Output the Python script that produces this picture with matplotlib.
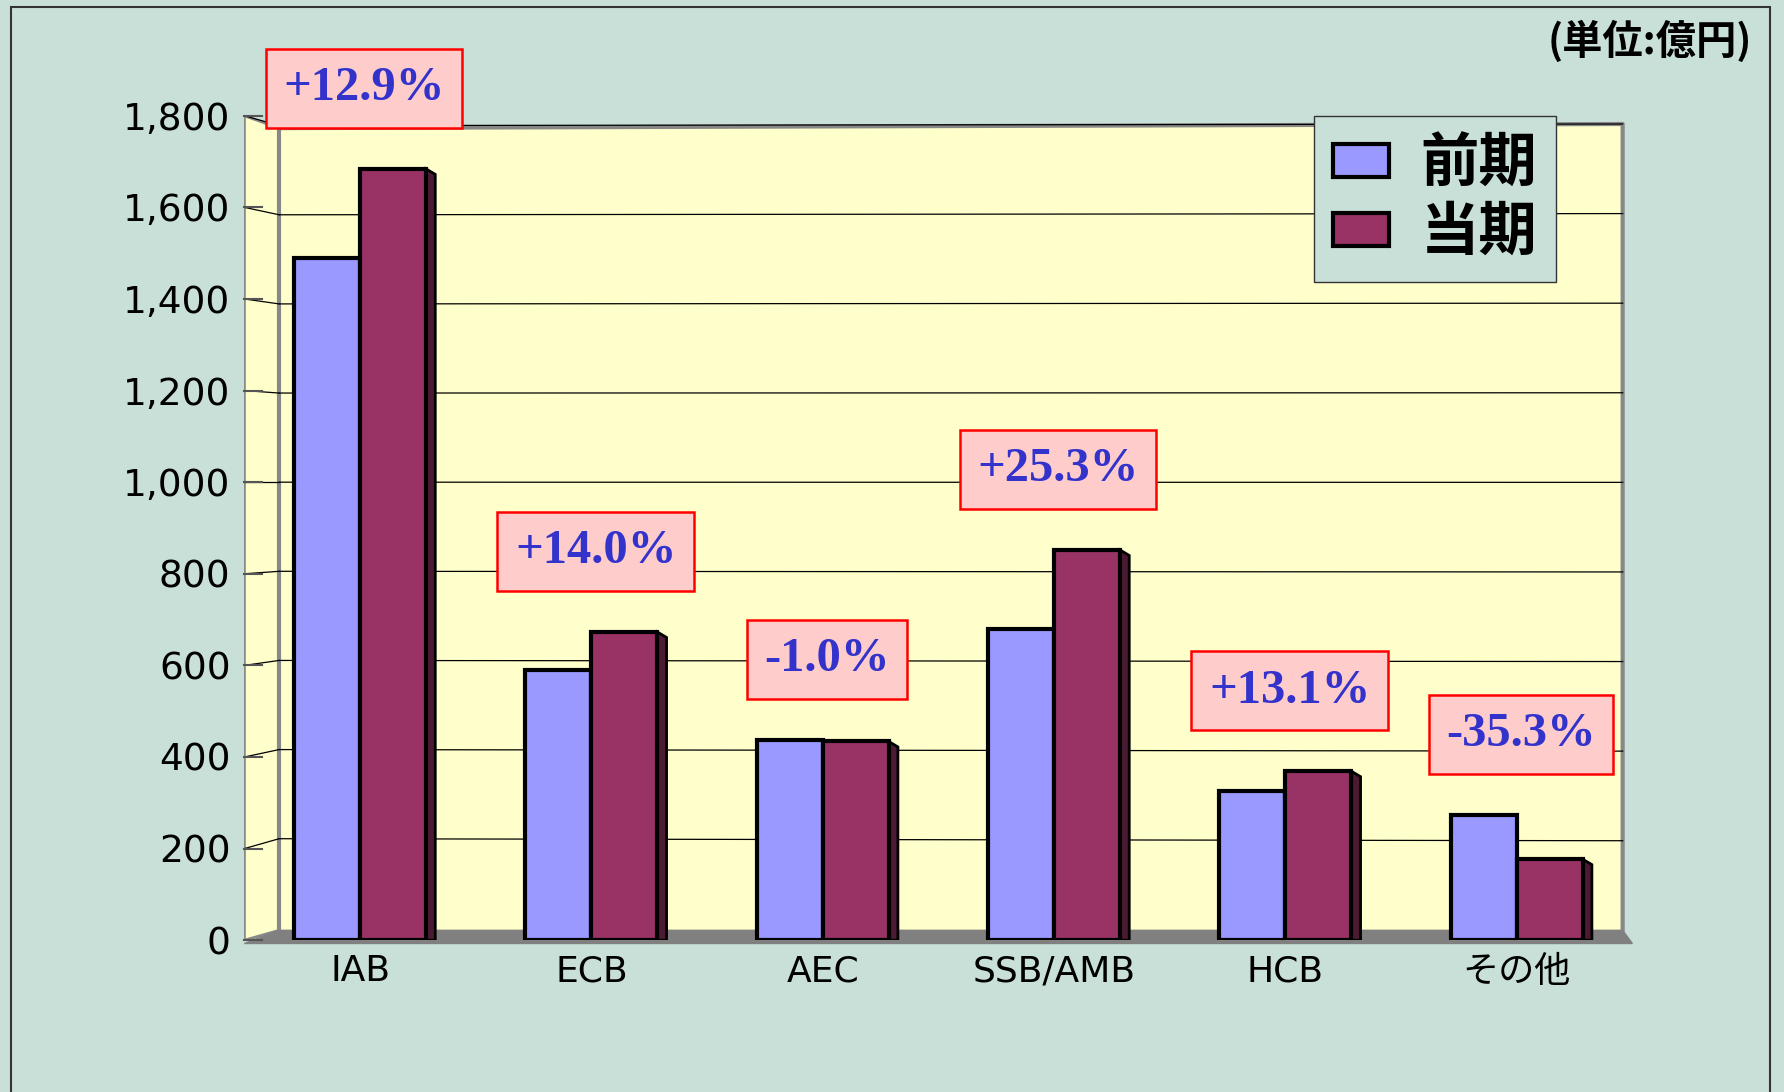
import numpy as np
import matplotlib.pyplot as plt
from matplotlib.patches import Rectangle, Polygon

plt.rcParams['font.family'] = ['Noto Sans CJK JP', 'DejaVu Sans']

# データ (単位: 億円)
categories = ["IAB", "ECB", "AEC", "SSB/AMB", "HCB", "その他"]
prev_vals = [1490, 590, 438, 680, 326, 274]    # 前期
curr_vals = [1684, 673, 434, 852, 369, 177]    # 当期
growth = ["+12.9%", "+14.0%", "-1.0%", "+25.3%", "+13.1%", "-35.3%"]
yticks = [0, 200, 400, 600, 800, 1000, 1200, 1400, 1600, 1800]

bg = '#C9E0D9'
wall = '#FFFFCC'
c_prev = '#9999FF'
c_curr = '#993366'
c_side = '#4D1A33'

fig = plt.figure(figsize=(17.84, 10.92), dpi=100, facecolor=bg)
# 外枠
fig.patches.append(Rectangle((0.006, -0.01), 0.986, 1.004, transform=fig.transFigure,
                             fill=False, edgecolor='#333333', linewidth=1.5))

ax = fig.add_axes([0.137, 0.139, 0.778, 0.755])
ax.set_facecolor(bg)
ax.set_xlim(-0.5, len(categories) - 0.5)
ax.set_ylim(0, 1800)

# 奥の壁と側面 (疑似3D)
dx, dy = 0.025, 0.012
ax.add_patch(Polygon([(dx, dy), (dx, 0.985), (0.993, 0.99), (0.993, dy)], closed=True,
                     transform=ax.transAxes, facecolor=wall, edgecolor='none', zorder=0))
ax.add_patch(Polygon([(0, 0), (0, 1), (dx, 0.985), (dx, dy)], closed=True,
                     transform=ax.transAxes, facecolor=wall, edgecolor='#888888',
                     linewidth=2, zorder=0.5))
ax.plot([dx, 0.993, 0.993], [0.985, 0.99, dy], transform=ax.transAxes,
        color='#888888', lw=3, zorder=0.6, clip_on=False)
ax.plot([dx, dx], [dy, 0.985], transform=ax.transAxes, color='#888888', lw=3,
        zorder=0.6)
# 床
ax.add_patch(Polygon([(0, -0.004), (dx, dy), (0.993, dy), (1.0, -0.004)], closed=True,
                     transform=ax.transAxes, facecolor='#808080', edgecolor='#808080',
                     linewidth=1, zorder=0.7, clip_on=False))

# 目盛り線 (奥の壁)
tk = 0.013
for v in yticks:
    f = v / 1800
    yb = f * (0.985 - dy) + dy + 0.003
    if v > 0:
        ax.plot([dx, 0.993], [yb, f * (0.99 - dy) + dy],
                transform=ax.transAxes, color='black', lw=0.9, zorder=0.8)
        ax.plot([0, dx], [f, yb], transform=ax.transAxes,
                color='black', lw=0.9, zorder=0.8)
    ax.plot([0, tk], [f, f], transform=ax.transAxes, color='#555555', lw=1.5,
            zorder=0.9, clip_on=False)

x = np.arange(len(categories))
w = 0.285
ax.bar(x - w / 2, prev_vals, w, color=c_prev, edgecolor='black', linewidth=3,
       zorder=3, label='前期')
ax.bar(x + w / 2, curr_vals, w, color=c_curr, edgecolor='black', linewidth=3,
       zorder=3, label='当期')

# 当期の側面
sd = 0.04
for xi, v in zip(x, curr_vals):
    xr = xi + w
    ax.add_patch(Polygon([(xr, 0), (xr, v), (xr + sd, v - 12), (xr + sd, 0)],
                         closed=True, facecolor=c_side, edgecolor='black',
                         linewidth=2, zorder=2.5))

# 増減率ラベル
for xi, p, c, g in zip(x, prev_vals, curr_vals, growth):
    ax.annotate(g, xy=(xi, max(p, c)), xytext=(3, 58), textcoords='offset points',
                ha='center', va='center', fontsize=35, fontweight='bold',
                color='#3333CC', family=['Liberation Serif', 'DejaVu Serif'],
                annotation_clip=False, zorder=6,
                bbox=dict(boxstyle='square,pad=0.36', facecolor='#FFCCCC',
                          edgecolor='red', linewidth=1.8))

for s in ax.spines.values():
    s.set_visible(False)
ax.set_yticks(yticks)
ax.set_yticklabels([f"{v:,}" for v in yticks], fontsize=27, family='DejaVu Sans')
ax.set_xticks(x)
ax.set_xticklabels(categories, fontsize=26)
for lab in ax.get_xticklabels()[:5]:
    lab.set_family('DejaVu Sans')
ax.tick_params(axis='both', length=0)
ax.tick_params(axis='y', pad=10)
ax.tick_params(axis='x', pad=10)

leg = ax.legend(loc='upper right', bbox_to_anchor=(0.945, 1.0),
                prop={'weight': 'bold', 'size': 42}, frameon=True, fancybox=False,
                facecolor=bg, edgecolor='#333333', framealpha=1,
                handlelength=0.95, handleheight=0.5, handletextpad=0.55,
                borderpad=0.32, labelspacing=0.15, borderaxespad=0)
for h in leg.legend_handles:
    h.set_linewidth(3)
leg.set_zorder(7)

fig.text(0.982, 0.962, "(単位:億円)", ha='right', va='center', fontsize=29,
         fontweight='bold')

fig.savefig('out.png', dpi=100, facecolor=bg)
